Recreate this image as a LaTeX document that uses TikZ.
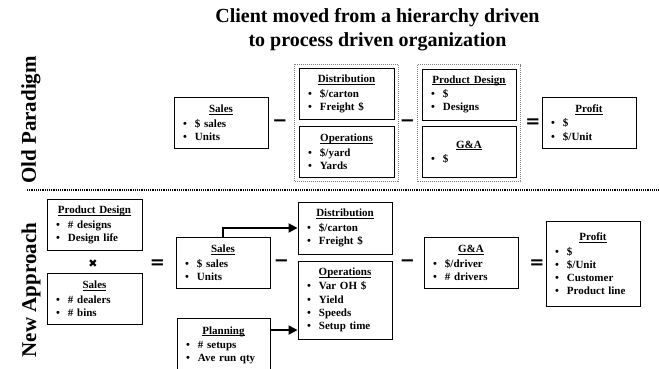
\documentclass[tikz,border=0pt]{standalone}
\usepackage{fontspec}
\setmainfont{Liberation Serif}
\newfontfamily\opfont{DejaVu Sans}
\usetikzlibrary{arrows.meta,positioning,calc,fit}

% box contents
\newcommand{\ulin}[1]{\setbox0\hbox{#1}\rlap{\rule[-1.8pt]{\wd0}{0.7pt}}\box0}
\newcommand{\hd}[1]{\makebox[\linewidth]{\ulin{#1}}\\[1pt]}
\newcommand{\itm}[1]{\hspace*{3pt}\makebox[12pt][l]{\textbullet}#1}

\begin{document}
\begin{tikzpicture}[x=1pt, y=-1pt,
  blk/.style={draw, line width=0.9pt, fill=white, align=left, inner xsep=6pt, inner ysep=0pt,
    text width=82pt, minimum height=51pt, font=\bfseries\fontsize{11}{13.3}\selectfont},
  grp/.style={draw=gray, densely dotted, line width=1pt, inner sep=4pt},
  op/.style={font=\opfont\bfseries\fontsize{18}{18}\selectfont, inner sep=0pt},
  side/.style={rotate=90, font=\bfseries\fontsize{21}{24}\selectfont},
  arr/.style={-{Triangle[length=9pt,width=9pt]}, line width=2pt}
]
  \useasboundingbox (0,0) rectangle (659,368);
  \node[font=\bfseries\fontsize{20}{24}\selectfont, align=center] (title) at (377.5,30)
    {Client moved from a hierarchy driven\\to process driven organization};

  % old paradigm
  \node[side] (old) at (31,120) {Old Paradigm};
  \node[blk] (osales) at (221,123) {\hd{Sales}\itm{\$ sales}\\\itm{Units}};
  \node[blk, text width=83pt] (odist) at (346.5,94) {\hd{Distribution}\itm{\$/carton}\\\itm{Freight \$}};
  \node[blk, text width=83pt] (oops) at (346.5,152) {\hd{Operations}\itm{\$/yard}\\\itm{Yards}};
  \node[grp, fit=(odist)(oops)] (ogrp1) {};
  \node[blk] (opd) at (469,94.5) {\hd{Product Design}\itm{\$}\\\itm{Designs}};
  \node[blk] (oga) at (469,152) {\hd{G\&A}\itm{\$}\\[12pt]};
  \node[grp, fit=(opd)(oga)] (ogrp2) {};
  \node[blk] (oprofit) at (589,123) {\hd{Profit}\itm{\$}\\\itm{\$/Unit}};
  \node[op] (om1) at (280,123) {−};
  \node[op] (om2) at (407.5,123) {−};
  \node[op] (oeq) at (533,123) {=};

  \draw[densely dotted, line width=1.2pt] (27,190) -- (659,190);

  % new approach
  \node[side] (new) at (31,290) {New Approach};
  \node[blk, text width=83pt] (npd) at (94.5,225) {\hd{Product Design}\itm{\# designs}\\\itm{Design life}};
  \node[font=\opfont\fontsize{11}{11}\selectfont] (ntimes) at (93,264) {✖};
  \node[blk, text width=83pt] (nsalesl) at (94.5,299) {\hd{Sales}\itm{\# dealers}\\\itm{\# bins}};
  \node[op] (neq1) at (157.5,264) {=};
  \node[blk] (nsales) at (223,263) {\hd{Sales}\itm{\$ sales}\\\itm{Units}};
  \node[blk, minimum height=54pt, text width=81pt] (nplan) at (223.5,345.5) {\hd{Planning}\itm{\# setups}\\\itm{Ave run qty}};
  \node[op] (nm1) at (281.5,263) {−};
  \node[blk, minimum height=52pt] (ndist) at (345,228) {\hd{Distribution}\itm{\$/carton}\\\itm{Freight \$}};
  \node[blk, minimum height=78pt] (nops) at (345,300) {\hd{Operations}\itm{Var OH \$}\\\itm{Yield}\\\itm{Speeds}\\\itm{Setup time}};
  \node[op] (nm2) at (407.5,263) {−};
  \node[blk] (nga) at (471,263) {\hd{G\&A}\itm{\$/driver}\\\itm{\# drivers}};
  \node[op] (neq2) at (537,264) {=};
  \node[blk, minimum height=85pt] (nprofit) at (593,264) {\hd{Profit}\itm{\$}\\\itm{\$/Unit}\\\itm{Customer}\\\itm{Product line}};

  \draw[arr] (nsales.north) |- (ndist.west);
  \coordinate (pa) at ([yshift=-12pt]nplan.north east);
  \draw[arr] (pa) -- (pa -| nops.west);
\end{tikzpicture}
\end{document}
